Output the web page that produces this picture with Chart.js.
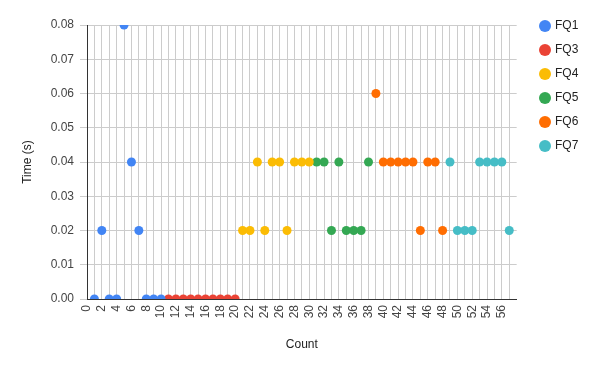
<!DOCTYPE html>
<html>
<head>
<meta charset="utf-8">
<script src="https://cdn.jsdelivr.net/npm/chart.js@4/dist/chart.umd.min.js"></script>
<style>
  html, body { margin: 0; padding: 0; background: #fff; }
  #wrap { width: 600px; height: 371px; }
</style>
</head>
<body>
<div id="wrap"><canvas id="chart"></canvas></div>
<script>
// values
const fq1Count = [1, 2, 3, 4, 5, 6, 7, 8, 9, 10];
const fq1Time  = [0, 0.02, 0, 0, 0.08, 0.04, 0.02, 0, 0, 0];
const fq3Count = [11, 12, 13, 14, 15, 16, 17, 18, 19, 20];
const fq3Time  = [0, 0, 0, 0, 0, 0, 0, 0, 0, 0];
const fq4Count = [21, 22, 23, 24, 25, 26, 27, 28, 29, 30];
const fq4Time  = [0.02, 0.02, 0.04, 0.02, 0.04, 0.04, 0.02, 0.04, 0.04, 0.04];
const fq5Count = [31, 32, 33, 34, 35, 36, 37, 38];
const fq5Time  = [0.04, 0.04, 0.02, 0.04, 0.02, 0.02, 0.02, 0.04];
const fq6Count = [39, 40, 41, 42, 43, 44, 45, 46, 47, 48];
const fq6Time  = [0.06, 0.04, 0.04, 0.04, 0.04, 0.04, 0.02, 0.04, 0.04, 0.02];
const fq7Count = [49, 50, 51, 52, 53, 54, 55, 56, 57];
const fq7Time  = [0.04, 0.02, 0.02, 0.02, 0.04, 0.04, 0.04, 0.04, 0.02];

const seriesNames = ["FQ1", "FQ3", "FQ4", "FQ5", "FQ6", "FQ7"];
const colors = ["#4285f4", "#ea4335", "#fbbc04", "#34a853", "#ff6d01", "#46bdc6"];

const xMin = 0, xMax = 58;
const yMin = 0, yMax = 0.08, yStep = 0.01;

function pts(xs, ys) {
  return xs.map((x, i) => ({x: x, y: ys[i]}));
}

const allSeries = [
  pts(fq1Count, fq1Time),
  pts(fq3Count, fq3Time),
  pts(fq4Count, fq4Time),
  pts(fq5Count, fq5Time),
  pts(fq6Count, fq6Time),
  pts(fq7Count, fq7Time)
];

const font = "'Liberation Sans', Arial, sans-serif";

// legend sits higher / further right than chart.js would put it
const legendNudge = {
  id: "legendNudge",
  afterLayout(chart) {
    const lg = chart.legend;
    if (!lg) return;
    const dx = 529 - lg.left, dy = 8 - lg.top;
    lg.left += dx; lg.right += dx;
    lg.top += dy; lg.bottom += dy;
  }
};

new Chart(document.getElementById("chart"), {
  type: "scatter",
  data: {
    datasets: allSeries.map((d, i) => ({
      label: seriesNames[i],
      data: d,
      backgroundColor: colors[i],
      borderColor: colors[i],
      borderWidth: 0,
      pointRadius: 4.5,
      pointHoverRadius: 4.5,
      clip: 0
    }))
  },
  options: {
    responsive: true,
    maintainAspectRatio: false,
    animation: false,
    layout: { padding: { top: 25, right: 24, bottom: 0, left: 0 } },
    plugins: {
      tooltip: { enabled: false },
      legend: {
        position: "right",
        align: "start",
        labels: {
          usePointStyle: true,
          pointStyle: "circle",
          boxWidth: 8,
          boxHeight: 8.5,
          padding: 12,
          color: "#222",
          font: { family: font, size: 12 }
        }
      }
    },
    scales: {
      x: {
        type: "linear",
        min: xMin,
        max: xMax,
        afterFit: s => { s.height = 72; },
        ticks: {
          stepSize: 1,
          autoSkip: false,
          minRotation: 90,
          maxRotation: 90,
          padding: 6,
          color: "#444",
          font: { family: font, size: 12 },
          callback: v => (v % 2 === 0 && v < xMax) ? String(v) : ""
        },
        grid: {
          drawTicks: false,
          color: c => (c.tick && c.tick.value === xMax) ? "rgba(0,0,0,0)" : "#cccccc"
        },
        border: { color: "#333", width: 1 },
        title: {
          display: true,
          text: "Count",
          color: "#222",
          font: { family: font, size: 12 },
          padding: { top: 0, bottom: 19 }
        }
      },
      y: {
        min: yMin,
        max: yMax,
        afterFit: s => { s.width = 87; },
        ticks: {
          stepSize: yStep,
          padding: 6,
          color: "#444",
          font: { family: font, size: 12 },
          callback: v => v.toFixed(2)
        },
        grid: { color: "#cccccc", tickLength: 7 },
        border: { color: "#333", width: 1 },
        title: {
          display: true,
          text: "Time (s)",
          color: "#222",
          font: { family: font, size: 12 },
          padding: { top: 20, bottom: 0 }
        }
      }
    }
  },
  plugins: [legendNudge]
});
</script>
</body>
</html>
